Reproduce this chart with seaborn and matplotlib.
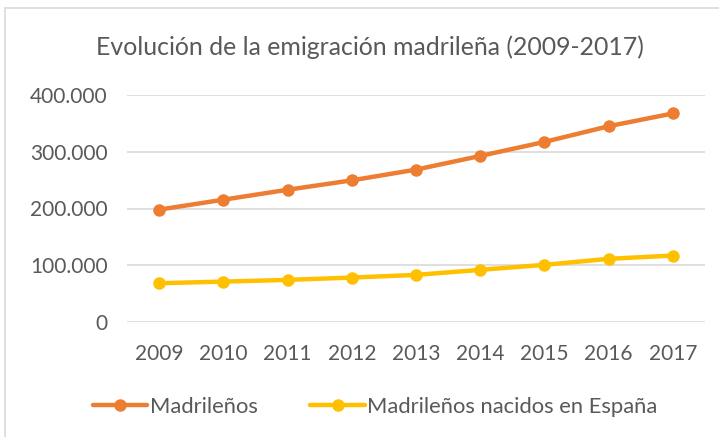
import pandas as pd
import numpy as np
import matplotlib
matplotlib.use("Agg")
import matplotlib.pyplot as plt
import seaborn as sns
from matplotlib.ticker import FuncFormatter
from matplotlib.patches import Rectangle

# data
years = ["2009", "2010", "2011", "2012", "2013", "2014", "2015", "2016", "2017"]
madrilenos = [198000, 215500, 233000, 249600, 268500, 292600, 317300, 345000, 367500]
nacidos_espana = [68300, 71200, 74200, 78300, 83000, 91900, 100700, 111300, 117100]
series_names = ["Madrileños", "Madrileños nacidos en España"]
colors = ["#ED7D31", "#FFC000"]

df = pd.DataFrame({
    "year": years * 2,
    "value": madrilenos + nacidos_espana,
    "serie": [series_names[0]] * len(years) + [series_names[1]] * len(years),
})

sns.set_theme(style="white")
plt.rcParams["font.family"] = ["Lato", "DejaVu Sans"]
text_color = "#595959"

fig = plt.figure(figsize=(7.19, 4.37), dpi=100)
ax = fig.add_axes([127 / 719, 1 - 322 / 437, (705 - 127) / 719, (322 - 95) / 437])

sns.lineplot(data=df, x="year", y="value", hue="serie", palette=colors,
             marker="o", markersize=9, linewidth=3.2, markeredgewidth=0,
             sort=False, ax=ax, clip_on=False, zorder=3)

ax.set_xlim(-0.5, len(years) - 0.5)
ax.set_ylim(0, 400000)
ax.set_yticks([0, 100000, 200000, 300000, 400000])
ax.yaxis.set_major_formatter(FuncFormatter(lambda v, p: f"{int(v):,}".replace(",", ".")))
ax.grid(axis="y", color="#d9d9d9", linewidth=1.2)
ax.grid(axis="x", visible=False)
for s in ax.spines.values():
    s.set_visible(False)
ax.set_xlabel("")
ax.set_ylabel("")
ax.tick_params(axis="y", length=0, pad=14, labelsize=15, labelcolor=text_color)
ax.tick_params(axis="x", length=0, pad=16, labelsize=15, labelcolor=text_color)

fig.text(370 / 719, 1 - 47 / 437, "Evolución de la emigración madrileña (2009-2017)",
         ha="center", va="center", fontsize=17.9, color=text_color)

handles, labels = ax.get_legend_handles_labels()
ax.legend(handles, labels, loc="center", bbox_to_anchor=(375 / 719, 1 - 407 / 437),
          bbox_transform=fig.transFigure, ncol=2, frameon=False, fontsize=15.8,
          labelcolor=text_color, handlelength=2.5, handletextpad=0.1,
          columnspacing=2.4)

# chart area border
fig.patches.append(Rectangle((5 / 719, -0.05), 1.0, 1 - 8 / 437 + 0.05,
                             transform=fig.transFigure, fill=False,
                             edgecolor="#d9d9d9", linewidth=1.2))

fig.savefig("out.png", dpi=100, facecolor="white")
